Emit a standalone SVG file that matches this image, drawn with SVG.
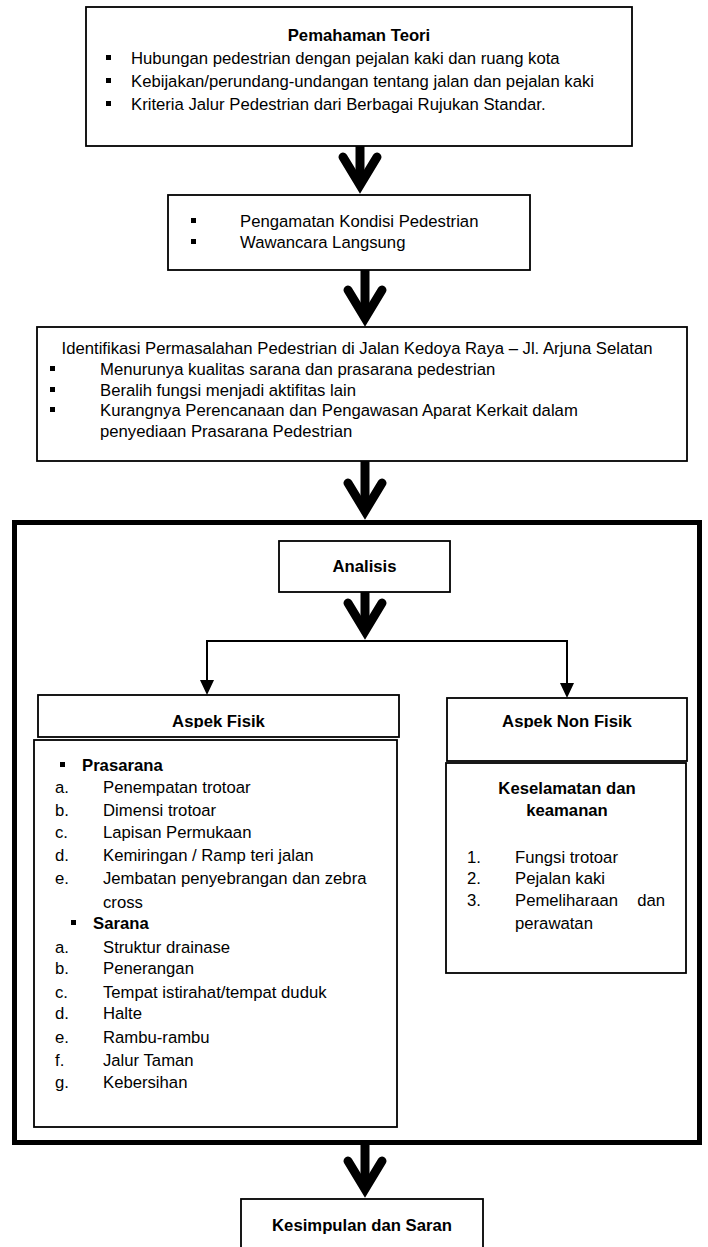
<svg xmlns="http://www.w3.org/2000/svg" width="708" height="1247" viewBox="0 0 708 1247">
<style>
.box{fill:#fff;stroke:#000;stroke-width:1.8}
.big{fill:none;stroke:#000;stroke-width:5}
.t{font-family:"Liberation Sans",Arial,sans-serif;font-size:16.7px;fill:#000}
.b{font-weight:bold}
.c{text-anchor:middle}
.bul{fill:#000}
.shaft{stroke:#000;stroke-width:9;fill:none}
.vee{stroke:#000;stroke-width:9;fill:none;stroke-linecap:round;stroke-linejoin:miter;stroke-miterlimit:10}
.thin{stroke:#000;stroke-width:2;fill:none}
.head{fill:#000}
</style>
<defs>
<clipPath id="clipHead"><rect x="0" y="600" width="708" height="128"/></clipPath>
</defs>

<g id="big-frame"><rect class="big" x="14.5" y="522.5" width="685" height="620"/></g>

<g id="connectors">
<line class="shaft" x1="360" y1="146" x2="360" y2="182"/>
<polyline class="vee" points="343,157 360,185 377,157"/>
<line class="shaft" x1="365" y1="270" x2="365" y2="315"/>
<polyline class="vee" points="348,290 365,318 382,290"/>
<line class="shaft" x1="365" y1="460" x2="365" y2="508"/>
<polyline class="vee" points="348,483 365,511 382,483"/>
<line class="shaft" x1="365" y1="592" x2="365" y2="628"/>
<polyline class="vee" points="348,603 365,631 382,603"/>
<line class="shaft" x1="365" y1="1145" x2="365" y2="1186"/>
<polyline class="vee" points="348,1161 365,1189 382,1161"/>
<polyline class="thin" points="207,681 207,641 567,641 567,684"/>
<polygon class="head" points="200,680 214,680 207,695"/>
<polygon class="head" points="560,683 574,683 567,698"/>
</g>

<g id="n-teori">
<rect class="box" x="86" y="7" width="546" height="139"/>
<text class="t b c" x="359" y="41">Pemahaman Teori</text>
<rect class="bul" x="106" y="55" width="5" height="5"/>
<text class="t" x="131" y="64">Hubungan pedestrian dengan pejalan kaki dan ruang kota</text>
<rect class="bul" x="106" y="78" width="5" height="5"/>
<text class="t" x="131" y="87">Kebijakan/perundang-undangan tentang jalan dan pejalan kaki</text>
<rect class="bul" x="106" y="101" width="5" height="5"/>
<text class="t" x="131" y="110">Kriteria Jalur Pedestrian dari Berbagai Rujukan Standar.</text>
</g>

<g id="n-pengamatan">
<rect class="box" x="168" y="195" width="362" height="75"/>
<rect class="bul" x="191" y="218" width="5" height="5"/>
<text class="t" x="240" y="227">Pengamatan Kondisi Pedestrian</text>
<rect class="bul" x="191" y="239" width="5" height="5"/>
<text class="t" x="240" y="248">Wawancara Langsung</text>
</g>

<g id="n-identifikasi">
<rect class="box" x="37" y="327" width="650" height="134"/>
<text class="t c" x="357" y="354">Identifikasi Permasalahan Pedestrian di Jalan Kedoya Raya – Jl. Arjuna Selatan</text>
<rect class="bul" x="50" y="366" width="5" height="5"/>
<text class="t" x="100" y="375">Menurunya kualitas sarana dan prasarana pedestrian</text>
<rect class="bul" x="50" y="387" width="5" height="5"/>
<text class="t" x="100" y="396">Beralih fungsi menjadi aktifitas lain</text>
<rect class="bul" x="50" y="407" width="5" height="5"/>
<text class="t" x="100" y="416">Kurangnya Perencanaan dan Pengawasan Aparat Kerkait dalam</text>
<text class="t" x="100" y="437">penyediaan Prasarana Pedestrian</text>
</g>

<g id="n-analisis">
<rect class="box" x="279" y="541" width="171" height="51"/>
<text class="t b c" x="364.5" y="572">Analisis</text>
</g>

<g id="n-aspek-fisik">
<rect class="box" x="38" y="695" width="361" height="42"/>
<text class="t b c" x="218.5" y="727" clip-path="url(#clipHead)">Aspek Fisik</text>
</g>

<g id="n-aspek-nonfisik">
<rect class="box" x="447" y="698" width="240" height="63"/>
<text class="t b c" x="567" y="727" clip-path="url(#clipHead)">Aspek Non Fisik</text>
</g>

<g id="n-fisik-list">
<rect class="box" x="34" y="740" width="363" height="387"/>
<rect class="bul" x="60" y="762" width="5" height="5"/>
<text class="t b" x="82" y="771">Prasarana</text>
<text class="t" x="55" y="793">a.</text><text class="t" x="103" y="793">Penempatan trotoar</text>
<text class="t" x="55" y="816">b.</text><text class="t" x="103" y="816">Dimensi trotoar</text>
<text class="t" x="55" y="838">c.</text><text class="t" x="103" y="838">Lapisan Permukaan</text>
<text class="t" x="55" y="861">d.</text><text class="t" x="103" y="861">Kemiringan / Ramp teri jalan</text>
<text class="t" x="55" y="884">e.</text><text class="t" x="103" y="884">Jembatan penyebrangan dan zebra</text>
<text class="t" x="103" y="908">cross</text>
<rect class="bul" x="71" y="920" width="5" height="5"/>
<text class="t b" x="93" y="929">Sarana</text>
<text class="t" x="55" y="953">a.</text><text class="t" x="103" y="953">Struktur drainase</text>
<text class="t" x="55" y="974">b.</text><text class="t" x="103" y="974">Penerangan</text>
<text class="t" x="55" y="998">c.</text><text class="t" x="103" y="998">Tempat istirahat/tempat duduk</text>
<text class="t" x="55" y="1019">d.</text><text class="t" x="103" y="1019">Halte</text>
<text class="t" x="55" y="1043">e.</text><text class="t" x="103" y="1043">Rambu-rambu</text>
<text class="t" x="55" y="1066">f.</text><text class="t" x="103" y="1066">Jalur Taman</text>
<text class="t" x="55" y="1088">g.</text><text class="t" x="103" y="1088">Kebersihan</text>
</g>

<g id="n-nonfisik-list">
<rect class="box" x="446" y="763" width="240" height="210"/>
<text class="t b c" x="567" y="794">Keselamatan dan</text>
<text class="t b c" x="567" y="816">keamanan</text>
<text class="t" x="467" y="863">1.</text><text class="t" x="515" y="863">Fungsi trotoar</text>
<text class="t" x="467" y="884">2.</text><text class="t" x="515" y="884">Pejalan kaki</text>
<text class="t" x="467" y="906">3.</text><text class="t" x="515" y="906">Pemeliharaan</text><text class="t" x="665" y="906" text-anchor="end">dan</text>
<text class="t" x="515" y="929">perawatan</text>
</g>

<g id="n-kesimpulan">
<rect class="box" x="241" y="1199" width="242" height="60"/>
<text class="t b c" x="362" y="1231">Kesimpulan dan Saran</text>
</g>
</svg>
